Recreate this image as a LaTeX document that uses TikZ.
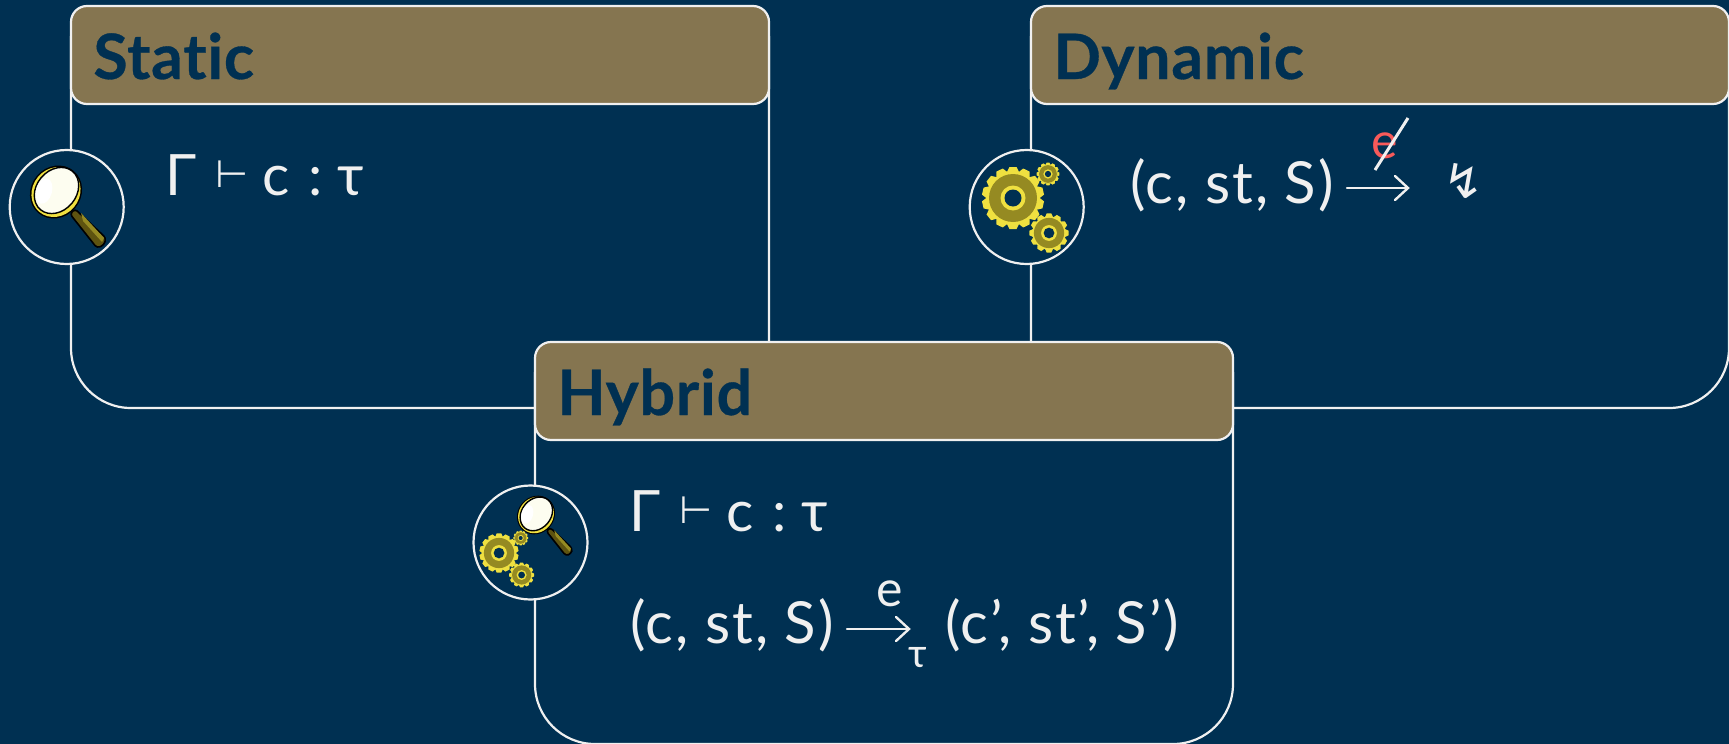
\documentclass[tikz,border=0pt]{standalone}
\usepackage{fontspec}
\setmainfont{Lato}
\newfontfamily\symfont{DejaVu Sans}
\newfontfamily\titlefont[Ligatures={NoCommon,NoRare},BoldFeatures={FakeBold=0.5,LetterSpace=1.2}]{Lato}
\newfontfamily\tuplefont[LetterSpace=3.2]{Lato}
\definecolor{bgblue}{HTML}{003052}
\definecolor{headgold}{HTML}{857550}
\definecolor{linewhite}{HTML}{F0F0F0}
\definecolor{gearyellow}{HTML}{EFE040}
\definecolor{geardark}{HTML}{958A22}
\definecolor{handledark}{HTML}{5E5310}
\definecolor{lenscream}{HTML}{FDFDF0}
\definecolor{slashred}{HTML}{F85A5A}
\tikzset{
  x=0.5pt,y=-0.5pt,
  panel/.style={draw=linewhite,line width=1.1pt,fill=bgblue,rounded corners=30pt},
  headbar/.style={draw=linewhite,line width=1.1pt,fill=headgold,rounded corners=8pt},
  badge/.style={draw=linewhite,line width=1.1pt,fill=bgblue},
  title/.style={anchor=base west,inner sep=0pt,text=bgblue,font=\fontsize{31.3}{34}\selectfont\titlefont\bfseries},
  formula/.style={anchor=base west,inner sep=0pt,text=linewhite,font=\fontsize{28.5}{32}\selectfont},
  tuple/.style={anchor=base west,inner sep=0pt,text=linewhite,font=\fontsize{29}{32}\selectfont\tuplefont},
  tinyformula/.style={anchor=base,inner sep=0pt,text=linewhite,font=\fontsize{25}{28}\selectfont},
  subformula/.style={anchor=base,inner sep=0pt,text=linewhite,font=\fontsize{20}{24}\selectfont},
  turn/.style={anchor=base west,inner sep=0pt,text=linewhite,font=\fontsize{19}{22}\selectfont\symfont},
  thinarrow/.style={draw=linewhite,line width=1.2pt,line cap=round},
  slash/.style={draw=linewhite,line width=1.5pt},
}
% panel: left x, top y, title
\newcommand{\mypanel}[3]{%
  \draw[panel] (#1,#2+30) -- (#1,#2+402) -- (#1+698,#2+402) -- (#1+698,#2+30);
  \draw[headbar] (#1,#2) rectangle ++(698,98);
  \node[title] (#3) at (#1+22,#2+73) {#3};
}
\newcommand{\mygear}[4]{% cx cy scale teeth
  \begin{scope}[shift={(#1,#2)},scale=#3]
    \foreach \a in {1,...,#4}{
      \fill[gearyellow,rotate=\a*360/#4] (-6.5,-25) -- (-3.6,-31) -- (3.6,-31) -- (6.5,-25) -- cycle;
    }
    \fill[gearyellow] (0,0) circle (26.5);
    \fill[geardark] (0,0) circle (24);
    \fill[gearyellow] (0,0) circle (12.5);
    \fill[bgblue] (0,0) circle (8.5);
  \end{scope}
}
\newcommand{\mylens}[3]{% cx cy scale
  \begin{scope}[shift={(#1,#2)},scale=#3]
    \draw[black,line width=0.8pt,line join=round,fill=handledark,rounded corners=1.5pt]
       (19,17) -- (50,46) -- (48,53) -- (41,56) -- (14,22) -- cycle;
    \fill[geardark] (25,21) -- (48,46) -- (46,50) -- (27,29) -- cycle;
    \fill[black] (0,0) ellipse[x radius=27.5,y radius=25,rotate=-130];
    \fill[gearyellow] (0,0) ellipse[x radius=26,y radius=23.5,rotate=-130];
    \draw[black,line width=0.7pt,fill=lenscream] (0.5,-1.5) ellipse[x radius=25,y radius=20,rotate=-130];
    \fill[white] (-12,-1) ellipse[x radius=8,y radius=13,rotate=-15];
  \end{scope}
}
\begin{document}
\begin{tikzpicture}
\fill[bgblue] (0,0) rectangle (1729,744);
\useasboundingbox (0,0) rectangle (1729,744);

\mypanel{71}{6}{Static}
\mypanel{1031}{6}{Dynamic}
\mypanel{535}{342}{Hybrid}

% badges
\draw[badge] (66.7,207) circle (57);
\draw[badge] (1026.7,207) circle (57);
\draw[badge] (530.5,542.5) circle (57);

% icons
\mylens{56}{192}{1}
\mygear{1013}{198}{1}{14}
\mygear{1048}{174}{0.37}{12}
\mygear{1049}{233}{0.63}{12}
\mylens{536}{515}{0.73}
\mygear{499}{553}{0.63}{14}
\mygear{520.7}{538}{0.24}{12}
\mygear{521.6}{575}{0.4}{12}

% static formula
\node[formula] (sg) at (165,195) {Γ};
\node[turn] (st) at (215,187) {⊢};
\node[formula] (sc) at (262,195) {c};
\node[formula] (sd) at (308,195) {:};
\node[formula] (su) at (337,195) {τ};

% dynamic formula
\node[tuple] (dl) at (1130,203) {(c, st, S)};
\coordinate (da) at (1347,188);
\coordinate (db) at (1408,188);
\coordinate (dt) at (1395,176);
\coordinate (dm) at (1395,200);
\draw[thinarrow] (da) -- (db);
\draw[thinarrow] (dt) -- (db) -- (dm);
\node[tinyformula,text=slashred] (de) at (1385,158) {e};
\coordinate (ds) at (1375,170);
\coordinate (dn) at (1408,118);
\draw[slash] (ds) -- (dn);
\node[anchor=center,inner sep=0pt,text=linewhite,font=\fontsize{24}{26}\selectfont\symfont] (dz) at (1464,181) {↯};

% hybrid formula
\node[formula] (hg) at (629,531) {Γ};
\node[turn] (ht) at (679,523) {⊢};
\node[formula] (hc) at (726,531) {c};
\node[formula] (hd) at (772,531) {:};
\node[formula] (hu) at (801,531) {τ};
\node[tuple] (hl) at (630,643) {(c, st, S)};
\coordinate (ha) at (847,629);
\coordinate (hb) at (909,629);
\coordinate (ht2) at (896,617);
\coordinate (hm) at (896,641);
\draw[thinarrow] (ha) -- (hb);
\draw[thinarrow] (ht2) -- (hb) -- (hm);
\node[tinyformula] (he) at (890,606) {e};
\node[subformula] (hs) at (918,667) {τ};
\node[tuple] (hr) at (945,643) {(c’, st’, S’)};
\end{tikzpicture}
\end{document}
